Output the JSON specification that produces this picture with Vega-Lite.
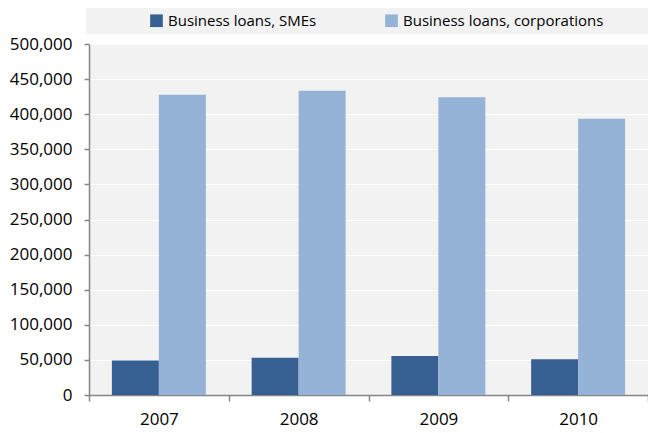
{
  "$schema": "https://vega.github.io/schema/vega-lite/v6.json",
  "width": 559,
  "height": 351,
  "autosize": {"type": "none"},
  "padding": {"left": 89, "top": 44, "right": 0, "bottom": 38},
  "background": "white",
  "data": {
    "values": [
      {"year": "2007", "series": "Business loans, SMEs", "value": 49200},
      {"year": "2007", "series": "Business loans, corporations", "value": 427700},
      {"year": "2008", "series": "Business loans, SMEs", "value": 53100},
      {"year": "2008", "series": "Business loans, corporations", "value": 433400},
      {"year": "2009", "series": "Business loans, SMEs", "value": 55400},
      {"year": "2009", "series": "Business loans, corporations", "value": 424000},
      {"year": "2010", "series": "Business loans, SMEs", "value": 51100},
      {"year": "2010", "series": "Business loans, corporations", "value": 393400}
    ]
  },
  "mark": {"type": "bar"},
  "encoding": {
    "x": {
      "field": "year",
      "type": "nominal",
      "scale": {"paddingInner": 0, "paddingOuter": 0},
      "axis": {
        "title": null,
        "labelAngle": 0,
        "tickBand": "extent",
        "labelFont": "Open Sans",
        "labelFontSize": 17,
        "labelColor": "#000000",
        "labelPadding": 10,
        "domainColor": "#868686",
        "domainWidth": 1.5,
        "tickColor": "#868686",
        "tickWidth": 1.5,
        "tickSize": 6,
        "grid": false
      }
    },
    "xOffset": {
      "field": "series",
      "type": "nominal",
      "sort": ["Business loans, SMEs", "Business loans, corporations"],
      "scale": {"paddingInner": 0, "paddingOuter": 0.487}
    },
    "y": {
      "field": "value",
      "type": "quantitative",
      "scale": {"domain": [0, 500000], "nice": false},
      "axis": {
        "title": null,
        "values": [0, 50000, 100000, 150000, 200000, 250000, 300000, 350000, 400000, 450000, 500000],
        "format": ",.0f",
        "labelFont": "Open Sans",
        "labelFontSize": 17,
        "labelColor": "#000000",
        "labelPadding": 12,
        "domainColor": "#868686",
        "domainWidth": 1.5,
        "tickColor": "#868686",
        "tickWidth": 1.5,
        "tickSize": 5,
        "grid": true,
        "gridColor": "#ffffff",
        "gridWidth": 1.2
      }
    },
    "color": {
      "field": "series",
      "type": "nominal",
      "sort": ["Business loans, SMEs", "Business loans, corporations"],
      "scale": {"range": ["#376092", "#95b3d7"]},
      "legend": {
        "orient": "none",
        "legendX": -3,
        "legendY": -36,
        "direction": "horizontal",
        "title": "\u3000",
        "titleOrient": "right",
        "titleFont": "Noto Sans CJK SC",
        "titleFontSize": 13,
        "titlePadding": 40,
        "fillColor": "#f2f2f2",
        "padding": 5,
        "symbolType": "square",
        "symbolSize": 160,
        "symbolStrokeWidth": 0,
        "symbolOffset": 58,
        "columnPadding": 9,
        "labelOffset": 4,
        "labelFont": "Open Sans",
        "labelFontSize": 15,
        "labelColor": "#000000",
        "labelLimit": 400
      }
    }
  },
  "config": {
    "view": {"fill": "#f2f2f2", "stroke": null}
  }
}
